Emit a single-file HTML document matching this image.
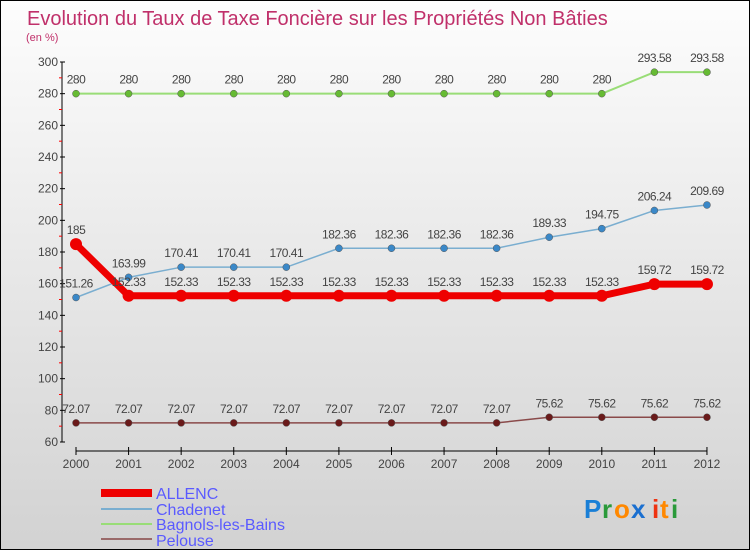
<!DOCTYPE html>
<html><head><meta charset="utf-8"><style>
html,body{margin:0;padding:0}
body{width:750px;height:550px;overflow:hidden;font-family:"Liberation Sans",sans-serif}
#wrap{position:relative;width:748px;height:548px;border:1px solid #000;background:linear-gradient(#fdfdfd,#f0f0f0 30%,#d2d2d2)}
svg text{font-family:"Liberation Sans",sans-serif}
</style></head><body>
<div id="wrap">
<svg id="chart" width="748" height="548">
<text x="26" y="24" font-size="20" fill="#c0306a">Evolution du Taux de Taxe Foncière sur les Propriétés Non Bâties</text>
<text x="25" y="40" font-size="11" fill="#c0306a">(en %)</text>
<g id="axes"></g><g id="series"></g>
<g>
<rect x="100" y="488" width="51" height="8" fill="#e00"/>
<text x="155" y="498" font-size="16" fill="#5a5aff">ALLENC</text>
<rect x="100" y="507" width="51" height="2" fill="#7aaed0"/>
<text x="155" y="514" font-size="16" fill="#5a5aff">Chadenet</text>
<rect x="100" y="522" width="51" height="2" fill="#99dd77"/>
<text x="155" y="529" font-size="16" fill="#5a5aff">Bagnols-les-Bains</text>
<rect x="100" y="537" width="51" height="2" fill="#9a6a6a"/>
<text x="155" y="545" font-size="16" fill="#5a5aff">Pelouse</text>
</g>
<g font-size="26" font-weight="bold">
<text x="583" y="517" fill="#1a7fd6">P</text><text x="601" y="517" fill="#2a9a3a">r</text><text x="613" y="517" fill="#ff8800">o</text><text x="630" y="517" fill="#1a6fd0">x</text><text x="651" y="517" fill="#ee3311">i</text><text x="659" y="517" fill="#ff8800">t</text><text x="670" y="517" fill="#2a9a3a">i</text>
</g>
</svg></div>
<script>
const years=[2000,2001,2002,2003,2004,2005,2006,2007,2008,2009,2010,2011,2012];
const allenc=[185,152.33,152.33,152.33,152.33,152.33,152.33,152.33,152.33,152.33,152.33,159.72,159.72];
const chadenet=[151.26,163.99,170.41,170.41,170.41,182.36,182.36,182.36,182.36,189.33,194.75,206.24,209.69];
const bagnols=[280,280,280,280,280,280,280,280,280,280,280,293.58,293.58];
const pelouse=[72.07,72.07,72.07,72.07,72.07,72.07,72.07,72.07,72.07,75.62,75.62,75.62,75.62];
const yTicks=[60,80,100,120,140,160,180,200,220,240,260,280,300];
const NS="http://www.w3.org/2000/svg";
const X=i=>75+i*52.58, Y=v=>441-(v-60)*380/240;
function mk(t,a,p){const e=document.createElementNS(NS,t);for(const k in a)e.setAttribute(k,a[k]);p.appendChild(e);return e;}
const ax=document.getElementById('axes');
let yl=mk('line',{x1:61,y1:61,x2:61,y2:441,stroke:'#000'},ax);


yTicks.forEach(v=>{
 mk('line',{x1:59,x2:64,y1:Y(v),y2:Y(v),stroke:'#000'},ax);
 if(v<300)mk('line',{x1:58,x2:61,y1:Y(v+10),y2:Y(v+10),stroke:'#f00'},ax);
 const t=mk('text',{x:57,y:Y(v)+4,'text-anchor':'end','font-size':12,fill:'#444'},ax);t.textContent=v;
 
 
});
let xl=mk('line',{x1:X(0),y1:450,x2:X(12),y2:450,stroke:'#000'},ax);


years.forEach((y,i)=>{
 mk('line',{x1:X(i),x2:X(i),y1:446,y2:454,stroke:'#000'},ax);
 const t=mk('text',{x:X(i),y:467,'text-anchor':'middle','font-size':12,fill:'#444'},ax);t.textContent=y;
 
 
});
const sg=document.getElementById('series');
function series(data,color,w,r,name,dot){
 const g=mk('g',{},sg);
 
 
 mk('polyline',{points:data.map((v,i)=>X(i)+','+Y(v)).join(' '),fill:'none',stroke:color,'stroke-width':w,'stroke-linejoin':'round'},g);
 data.forEach((v,i)=>{
  const c=mk('circle',{cx:X(i),cy:Y(v),r:r,fill:dot,stroke:w>3?'none':'#555','stroke-width':0.5},g);
  
  
  const t=mk('text',{x:X(i),y:Y(v)-10,'text-anchor':'middle','font-size':12,fill:'#444','letter-spacing':'-0.5'},g);
  t.textContent=String(v);
  
  
 });
}
series(bagnols,'#99dd77',2,3.5,'bagnols','#66bb33');
series(chadenet,'#7aaed0',1.5,3.5,'chadenet','#3a88c8');
series(pelouse,'#8a4a4a',1.5,3.5,'pelouse','#6a1a1a');
series(allenc,'#ee0000',7,6,'allenc','#ee0000');
</script>
</body></html>
